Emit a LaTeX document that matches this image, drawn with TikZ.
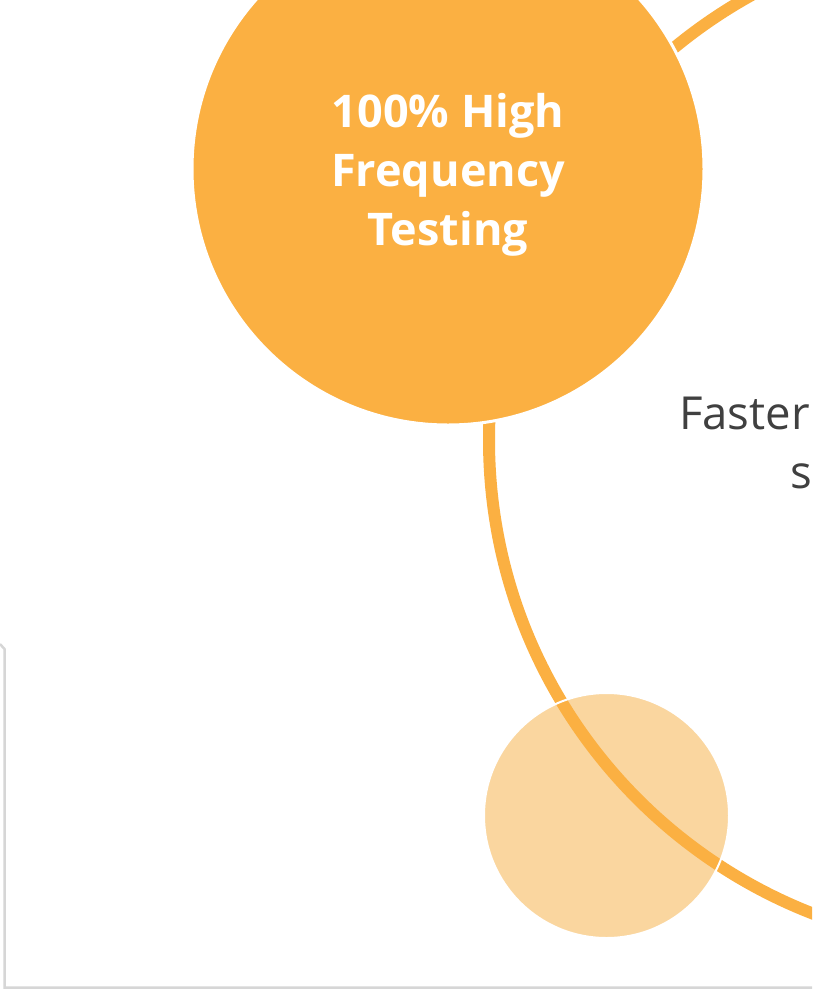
\documentclass[tikz,border=0pt]{standalone}
\usepackage{fontspec}
\setmainfont{Open Sans}
\definecolor{orangeA}{HTML}{FBB042}
\definecolor{orangeL}{HTML}{FAD69F}
\definecolor{greyT}{HTML}{404040}
\definecolor{greyB}{HTML}{D6D6D6}
\tikzset{
  bigcirc/.style={circle, fill=orangeA, draw=white, line width=3pt, minimum size=512pt, inner sep=0pt},
  smallcirc/.style={circle, fill=orangeL, minimum size=245pt, inner sep=0pt},
  ringline/.style={draw=orangeA, line width=12pt},
  titletext/.style={text=white, align=center, font=\bfseries\fontsize{45}{59}\selectfont},
  sidetext/.style={text=greyT, anchor=base west, font=\fontsize{45.5}{59}\selectfont, inner sep=0pt}
}
\begin{document}
\begin{tikzpicture}[x=1pt,y=-1pt]
\useasboundingbox (0,0) rectangle (812,991);
\clip (0,0) rectangle (812,991);
% grey frame
\coordinate (f1) at (0,644);
\coordinate (f2) at (4.5,649);
\coordinate (f3) at (4.5,987.5);
\coordinate (f4) at (815,987.5);
\draw[greyB, line width=2.5pt] (f1) -- (f2) -- (f3) -- (f4);
% small light circle
\node[smallcirc] (small) at (606.5,815.5) {};
% big ring
\coordinate (rc) at (997,440);
\draw[ringline] (rc) circle[radius=508];
% white outline of small circle over ring
\draw[white, line width=2pt] (small.center) circle[radius=122.5];
% big circle
\node[bigcirc] (big) at (448,169) {};
\node[titletext] (title) at (448,175) {100\% High\\Frequency\\Testing};
% side text
\node[sidetext] (t1) at (679,429) {Faster};
\node[sidetext] (t2) at (790,488) {s};
\end{tikzpicture}
\end{document}
